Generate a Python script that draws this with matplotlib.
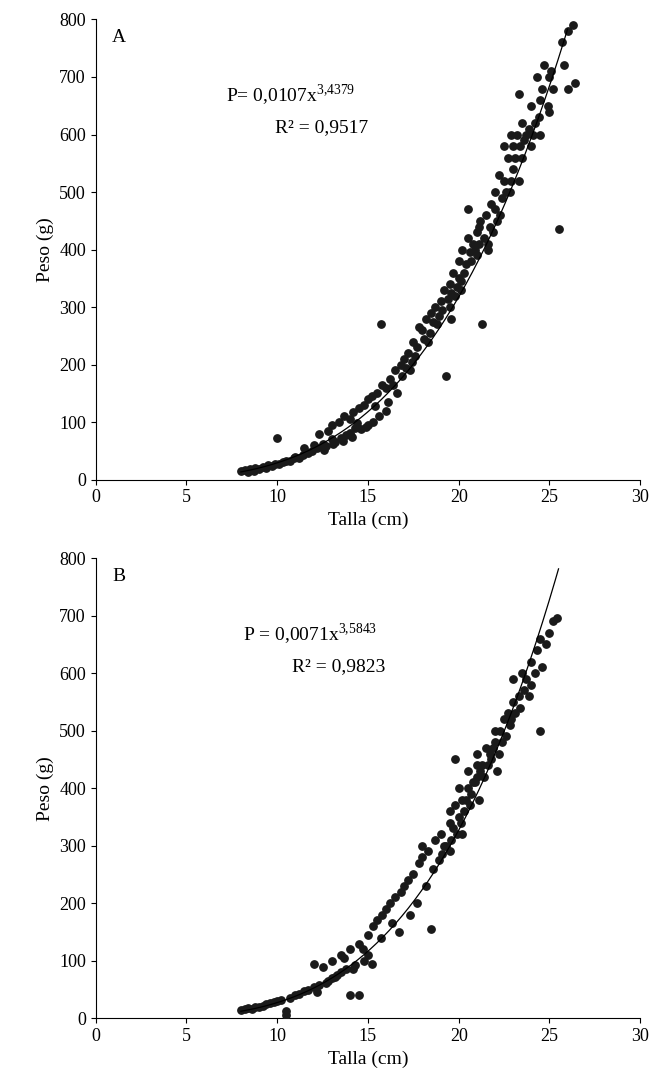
import matplotlib.pyplot as plt
import numpy as np

plt.rcParams['font.family'] = ['Liberation Serif', 'DejaVu Serif']
plt.rcParams['mathtext.fontset'] = 'custom'
plt.rcParams['mathtext.rm'] = 'Liberation Serif'

# Panel A: talla (cm), peso (g)
talla_a = [8.0, 8.2, 8.4, 8.5, 8.7, 8.8, 9.0, 9.2, 9.4, 9.5, 9.7, 9.9, 10.0, 10.1, 10.3, 10.5, 10.7, 10.9,
           11.0, 11.2, 11.4, 11.5, 11.7, 11.9, 12.0, 12.2, 12.3, 12.5, 12.7, 12.8, 13.0, 13.0, 13.2, 13.4,
           13.5, 13.7, 13.8, 14.0, 14.0, 14.2, 14.3, 14.5, 14.6, 14.8, 15.0, 15.0, 15.2, 15.3, 15.5, 15.6,
           15.7, 15.8, 16.0, 16.0, 16.2, 16.5, 16.6, 16.8, 17.0, 17.2, 17.3, 17.5, 17.7, 17.8, 18.0, 18.2,
           18.3, 18.5, 18.7, 18.8, 19.0, 19.2, 19.3, 19.5, 19.5, 19.7, 19.8, 20.0, 20.0, 20.2, 20.3, 20.5,
           20.5, 20.7, 20.8, 21.0, 21.0, 21.2, 21.3, 21.4, 21.5, 21.7, 21.8, 22.0, 22.0, 22.2, 22.3, 22.5,
           22.7, 22.8, 23.0, 23.0, 23.2, 23.3, 23.5, 23.5, 23.7, 24.0, 24.0, 24.2, 24.3, 24.5, 24.5, 24.7,
           25.0, 25.0, 25.2, 25.5, 25.7, 25.8, 26.0, 26.0, 26.3, 26.4, 23.3, 22.5,
           # denser part of the cloud
           12.6, 13.1, 13.6, 14.1, 14.4, 14.9, 15.4, 16.1, 16.4, 16.9, 17.1, 17.4, 17.6, 18.1, 18.4, 18.6,
           18.9, 19.1, 19.4, 19.6, 19.9, 20.1, 20.4, 20.6, 20.9, 21.1, 21.1, 21.6, 21.9, 22.1, 22.4, 22.6,
           22.9, 23.1, 23.4, 23.6, 23.9, 24.1, 24.4, 24.6, 24.9, 25.1, 21.6, 20.1, 19.6, 22.9]
peso_a = [15, 17, 14, 18, 16, 20, 19, 22, 21, 25, 24, 28, 72, 27, 30, 33, 32, 37,
          40, 38, 43, 55, 47, 50, 60, 55, 80, 62, 58, 85, 70, 95, 65, 100,
          72, 110, 78, 105, 82, 118, 90, 125, 88, 130, 95, 140, 145, 100, 150, 110,
          270, 165, 160, 120, 175, 190, 150, 200, 210, 220, 190, 240, 230, 265, 260, 280,
          240, 290, 300, 270, 310, 330, 180, 300, 340, 360, 320, 350, 380, 400, 360, 420,
          470, 380, 410, 430, 390, 450, 270, 420, 460, 440, 480, 470, 500, 530, 460, 520,
          560, 500, 540, 580, 600, 520, 620, 560, 600, 650, 580, 620, 700, 660, 600, 720,
          700, 640, 680, 435, 760, 720, 780, 680, 790, 690, 670, 580,
          52, 62, 68, 75, 98, 92, 128, 135, 165, 180, 195, 205, 215, 245, 255, 275,
          285, 295, 315, 325, 335, 345, 375, 395, 400, 410, 440, 410, 430, 450, 490, 500,
          520, 560, 580, 590, 610, 600, 630, 680, 650, 710, 400, 330, 280, 600]

# Panel B
talla_b = [8.0, 8.2, 8.4, 8.6, 8.8, 9.0, 9.2, 9.4, 9.6, 9.8, 10.0, 10.2, 10.5, 10.7, 11.0, 11.2, 11.5,
           11.7, 12.0, 12.0, 12.3, 12.5, 12.7, 13.0, 13.0, 13.3, 13.5, 13.5, 13.8, 14.0, 14.0, 14.3, 14.5,
           14.5, 14.8, 15.0, 15.0, 15.3, 15.5, 15.8, 16.0, 16.2, 16.5, 16.8, 17.0, 17.2, 17.5, 17.8, 18.0,
           18.3, 18.5, 18.7, 19.0, 19.2, 19.5, 19.5, 19.8, 20.0, 20.0, 20.2, 20.5, 20.5, 20.8, 21.0, 21.0,
           21.3, 21.5, 21.7, 22.0, 22.0, 22.3, 22.5, 22.7, 23.0, 23.0, 23.3, 23.5, 23.7, 24.0, 24.0, 24.3,
           24.5, 24.5, 24.8, 25.0, 25.2, 25.4, 10.5, 18.0, 19.8,
           # denser part of the cloud
           12.2, 12.8, 13.2, 13.7, 14.2, 14.7, 15.2, 15.7, 16.3, 16.7, 17.3, 17.7, 18.2, 18.6, 18.9, 19.1,
           19.3, 19.6, 19.7, 19.9, 20.1, 20.3, 20.4, 20.6, 20.7, 20.9, 21.1, 21.2, 21.4, 21.6, 21.8, 21.9,
           22.1, 22.2, 22.4, 22.6, 22.8, 22.9, 23.1, 23.4, 23.6, 23.9, 24.2, 24.6, 20.2, 21.0, 19.5]
peso_b = [15, 16, 18, 17, 20, 19, 22, 24, 26, 28, 30, 32, 5, 36, 40, 42, 48,
          50, 55, 95, 58, 90, 62, 70, 100, 75, 110, 80, 85, 120, 40, 92, 130,
          40, 100, 145, 110, 160, 170, 180, 190, 200, 210, 220, 230, 240, 250, 270, 280,
          290, 155, 310, 320, 300, 340, 360, 370, 350, 400, 380, 400, 430, 410, 420, 460,
          440, 470, 460, 480, 500, 500, 520, 530, 550, 590, 560, 600, 590, 620, 580, 640,
          660, 500, 650, 670, 690, 695, 12, 300, 450,
          45, 65, 72, 105, 85, 120, 95, 140, 165, 150, 180, 200, 230, 260, 275, 285,
          300, 310, 330, 320, 340, 360, 380, 370, 390, 410, 380, 430, 420, 440, 450, 470,
          430, 460, 480, 490, 510, 520, 530, 540, 570, 560, 600, 610, 320, 440, 290]

fig, axes = plt.subplots(2, 1, figsize=(6.6, 10.81), dpi=100)
fig.subplots_adjust(left=0.145, right=0.97, top=0.982, bottom=0.058, hspace=0.17)

paneles = [
    (axes[0], talla_a, peso_a, 0.0107, 3.4379, 26.0, 'A', r'P= 0,0107x$^{\mathrm{3{,}4379}}$', 'R² = 0,9517', (0.24, 0.82)),
    (axes[1], talla_b, peso_b, 0.0071, 3.5843, 25.5, 'B', r'P = 0,0071x$^{\mathrm{3{,}5843}}$', 'R² = 0,9823', (0.27, 0.82)),
]
for ax, x, y, a, b, xmax, letra, ecu, r2, pos in paneles:
    ax.scatter(x, y, s=28, color='#1a1a1a', zorder=3)
    xc = np.linspace(8, xmax, 200)
    ax.plot(xc, a * xc ** b, color='black', linewidth=0.9, zorder=4)
    ax.set_xlim(0, 30)
    ax.set_ylim(0, 800)
    ax.set_xticks(range(0, 31, 5))
    ax.set_yticks(range(0, 801, 100))
    ax.tick_params(labelsize=13, direction='out')
    for s in ['top', 'right']:
        ax.spines[s].set_visible(False)
    ax.set_xlabel('Talla (cm)', fontsize=14)
    ax.set_ylabel('Peso (g)', fontsize=14)
    ax.text(0.03, 0.96, letra, transform=ax.transAxes, fontsize=14, va='center')
    ax.text(pos[0], pos[1], ecu, transform=ax.transAxes, fontsize=14)
    ax.text(pos[0] + 0.09, pos[1] - 0.065, r2, transform=ax.transAxes, fontsize=14)

plt.savefig('out.png')
